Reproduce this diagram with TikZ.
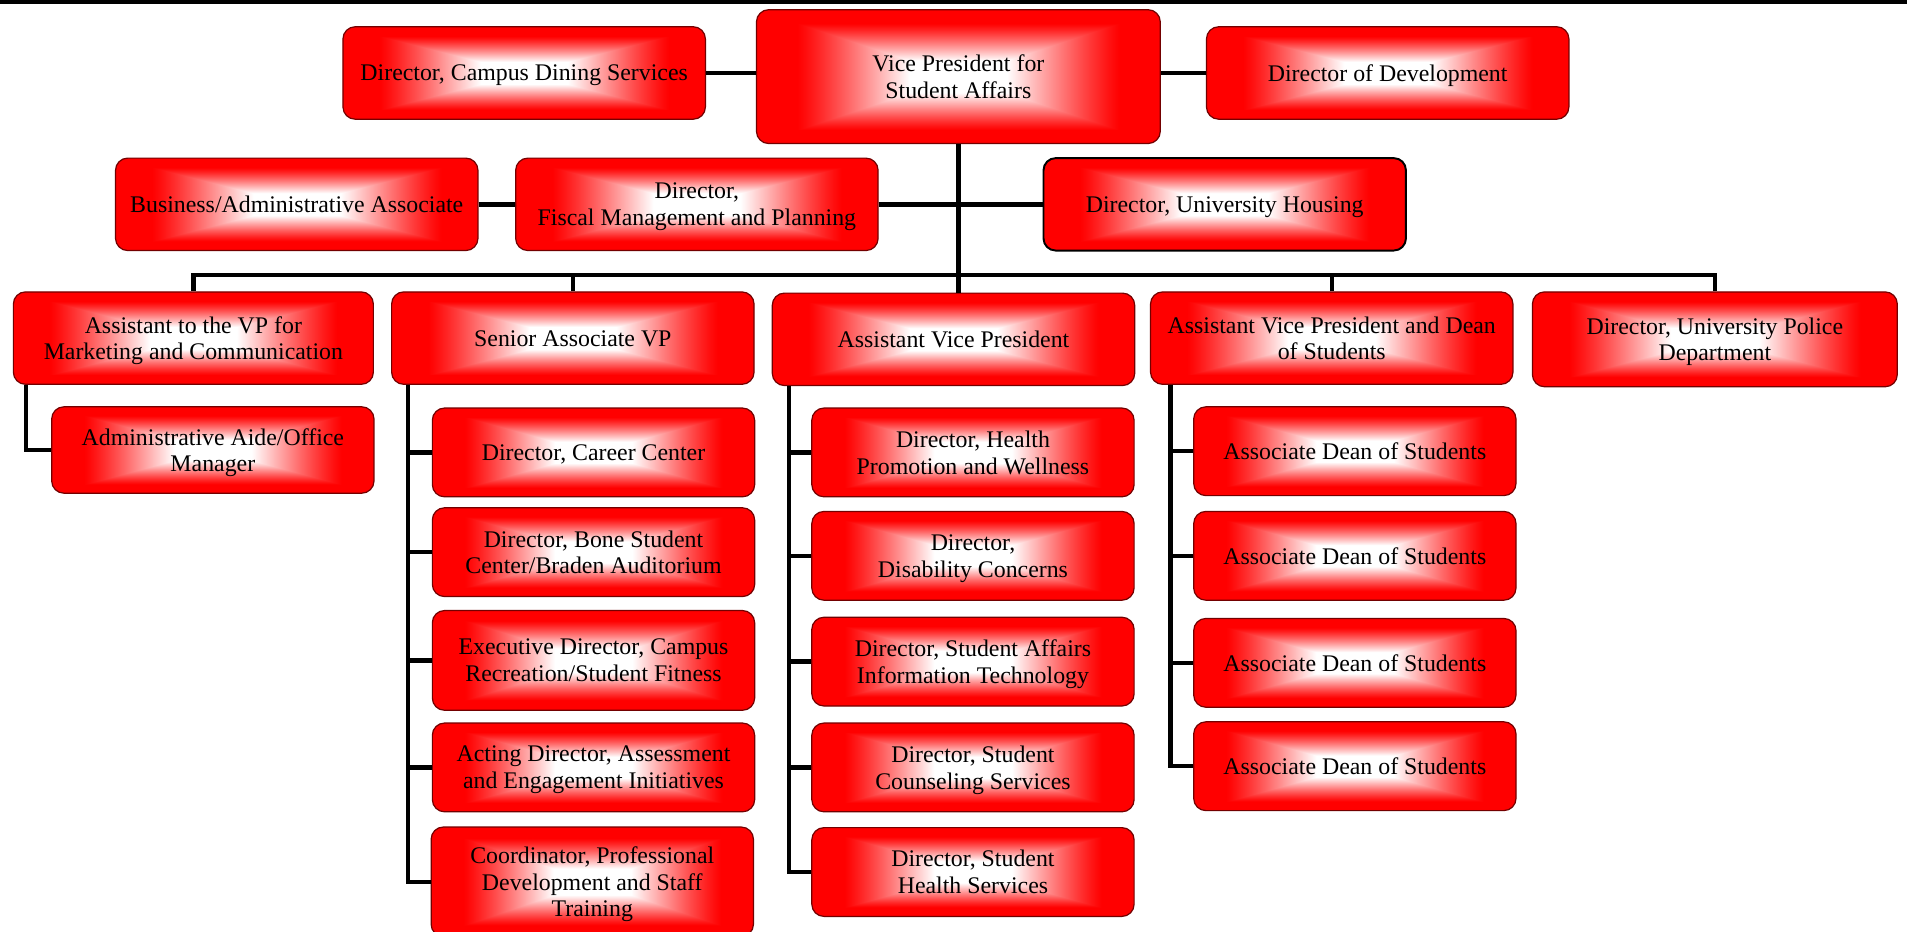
\documentclass[tikz,border=0pt]{standalone}
\usepackage{fontspec}
\setmainfont{Liberation Serif}

% white centre fading to red at the edges
\pgfdeclarefunctionalshading{redglow}{\pgfpointorigin}{\pgfpoint{100bp}{100bp}}{}{
	50 sub abs exch 50 sub abs
	2 copy lt {exch} if pop
	25 div 0.8 exch sub 0.56 div
	dup 0 lt {pop 0} if dup 1 gt {pop 1} if
	1.15 exp
	1 exch dup
}

\begin{document}
\begin{tikzpicture}[x=0.5pt, y=-0.5pt,
	box/.style={rectangle, rounded corners=5pt, draw=red!45!black, line width=0.5pt, shading=redglow,
		align=center, inner sep=1pt, minimum width=149pt, minimum height=38pt, text depth=0pt,
		font=\fontsize{9.8}{11}\selectfont},
	subbox/.style={box, minimum width=132.5pt, minimum height=36.5pt},
	conn/.style={line width=1.8pt}]

	\useasboundingbox (0,0) rectangle (1568,766);
	\draw[line width=1.5pt] (0,1.5) -- (1568,1.5);

	% top rows
	\node[box] (dining) at (431,60) {Director, Campus Dining Services};
	\node[box, minimum width=166pt, minimum height=55pt] (vp) at (788,63) {Vice President for\\Student Affairs};
	\node[box] (dev) at (1141,60) {Director of Development};
	\node[box] (biz) at (244,168) {Business/Administrative Associate};
	\node[box] (fiscal) at (573,168) {Director,\\Fiscal Management and Planning};
	\node[box, draw=black, line width=0.8pt] (housing) at (1007,168) {Director, University Housing};

	% third row
	\node[box, minimum width=148pt] (mkt) at (159,278) {Assistant to the VP for\\Marketing and Communication};
	\node[box] (senior) at (471,278) {Senior Associate VP};
	\node[box] (avp) at (784,279) {Assistant Vice President};
	\node[box] (dean) at (1095,278) {Assistant Vice President and Dean\\of Students};
	\node[box, minimum width=150pt, minimum height=39pt] (police) at (1410,279) {Director, University Police\\Department};

	\node[subbox, minimum height=35.5pt] (aide) at (175,370) {Administrative Aide/Office\\Manager};

	\node[subbox] (career) at (488,372) {Director, Career Center};
	\node[subbox] (bone) at (488,454) {Director, Bone Student\\Center/Braden Auditorium};
	\node[subbox, minimum height=41pt] (rec) at (488,543) {Executive Director, Campus\\Recreation/Student Fitness};
	\node[subbox] (assess) at (488,631) {Acting Director, Assessment\\and Engagement Initiatives};
	\node[subbox, minimum height=45pt] (coord) at (487,725) {Coordinator, Professional\\Development and Staff\\Training};

	\node[subbox] (promo) at (800,372) {Director, Health\\Promotion and Wellness};
	\node[subbox] (disab) at (800,457) {Director,\\Disability Concerns};
	\node[subbox] (sait) at (800,544) {Director, Student Affairs\\Information Technology};
	\node[subbox] (couns) at (800,631) {Director, Student\\Counseling Services};
	\node[subbox] (health) at (800,717) {Director, Student\\Health Services};

	\node[subbox] (ads1) at (1114,371) {Associate Dean of Students};
	\node[subbox] (ads2) at (1114,457) {Associate Dean of Students};
	\node[subbox] (ads3) at (1114,545) {Associate Dean of Students};
	\node[subbox] (ads4) at (1114,630) {Associate Dean of Students};

	% connectors
	\coordinate (bus) at (788,226);
	\draw[conn] (dining.east) -- (dining.east -| vp.west);
	\draw[conn] (dev.west -| vp.east) -- (dev.west);
	\draw[conn] (biz.east) -- (fiscal.west);
	\draw[conn] (fiscal.east) -- (fiscal.east -| vp.south);
	\draw[conn] (housing.west) -- (housing.west -| vp.south);
	\draw[conn] (vp.south) -- (vp.south |- avp.north);
	\foreach \n in {mkt,senior,dean,police}
		\draw[conn] (\n.north) |- (bus);

	\draw[conn] ([xshift=5.5pt]mkt.south west) |- (aide.west);
	\foreach \n in {career,bone,rec,assess,coord}
		\draw[conn] ([xshift=7pt]senior.south west) |- (\n.west);
	\foreach \n in {promo,disab,sait,couns,health}
		\draw[conn] ([xshift=7pt]avp.south west) |- (\n.west);
	\foreach \n in {ads1,ads2,ads3,ads4}
		\draw[conn] ([xshift=8.5pt]dean.south west) |- (\n.west);
\end{tikzpicture}
\end{document}
